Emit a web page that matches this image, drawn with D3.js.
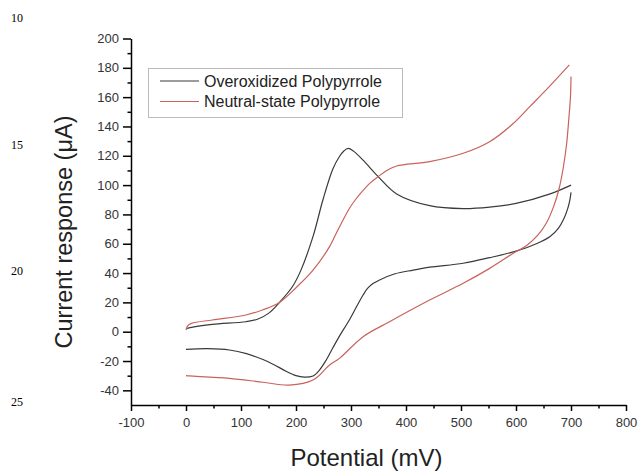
<!DOCTYPE html>
<html>
<head>
<meta charset="utf-8">
<script src="https://cdn.jsdelivr.net/npm/d3@7"></script>
<style>
  body { margin: 0; background: #fff; }
  text { font-family: "Liberation Sans", Arial, sans-serif; }
</style>
</head>
<body>
<svg id="chart"></svg>
<script>
// overoxidized polypyrrole, forward and reverse scan (mV, uA)
const oxFwdPotential = [0, 10, 48, 109, 130, 150, 170, 194, 209, 231, 249, 267, 279, 287, 295, 305, 322, 349, 383, 443, 504, 552, 600, 662, 700];
const oxFwdCurrent   = [2, 3, 5, 6.8, 8.5, 12.5, 20, 31, 42, 65, 90, 111, 119.5, 123.3, 125, 123, 117, 106, 94, 86, 84, 85, 87.5, 94, 100];
const oxRevPotential = [700, 698, 694, 687, 677, 662, 637, 600, 552, 504, 443, 413, 380, 352, 340, 330, 322, 310, 297, 279, 267, 255, 243, 231, 215, 200, 182, 160, 140, 110, 79, 40, 0];
const oxRevCurrent   = [95, 90, 84, 77, 70.5, 65, 60, 55, 50.5, 46.7, 44, 42, 39.5, 35.3, 32.8, 29.5, 25, 17, 8, -3, -11, -19.3, -26, -30.2, -31, -30, -27, -22.5, -19, -15, -12.5, -11.6, -12];

// neutral-state polypyrrole
const neFwdPotential = [0, 3, 10, 48, 109, 140, 170, 200, 231, 261, 273, 297, 308, 320, 335, 349, 365, 383, 443, 504, 552, 595, 625, 660, 697];
const neFwdCurrent   = [1, 4, 5.7, 8, 11.4, 15, 20, 30, 42, 58, 67, 84, 90, 95.5, 101.5, 105.7, 110, 113, 116, 121.7, 129.6, 142, 153.5, 167, 182];
const neRevPotential = [700, 699, 696, 692, 686, 678, 668, 655, 640, 620, 595, 552, 504, 443, 370, 322, 279, 261, 231, 188, 140, 79, 6, 0];
const neRevCurrent   = [174, 160, 145, 128, 112, 97, 85, 74, 66, 59, 53.5, 43.2, 33, 21.6, 6.8, -3.4, -18.2, -22.7, -33, -36.4, -34.5, -31.8, -30.2, -30];

const seriesNames = ["Overoxidized Polypyrrole", "Neutral-state Polypyrrole"];
const seriesColors = ["#3a3a3a", "#c9625c"];

const xTicks = [-100, 0, 100, 200, 300, 400, 500, 600, 700, 800];
const yTicks = [-40, -20, 0, 20, 40, 60, 80, 100, 120, 140, 160, 180, 200];
const lineNumbers = ["10", "15", "20", "25"];

const svgWidth = 638, svgHeight = 471;

const chart = d3.select('#chart')
    .attr("width", svgWidth)
    .attr("height", svgHeight);

var xScale = d3.scaleLinear().domain([-100, 800]).range([131, 626]);
var yScale = d3.scaleLinear().domain([-50, 200]).range([405, 38.5]);

// manuscript line numbers in the margin
const lnY = [22, 148.5, 275, 406];
chart.selectAll(".ln")
    .data(lineNumbers)
    .enter().append("text")
    .attr("x", 11)
    .attr("y", (d, i) => lnY[i])
    .style("font-family", "'Liberation Serif', 'Times New Roman', serif")
    .style("font-size", "12px")
    .text(d => d);

// minor ticks
chart.append("g")
    .attr("transform", "translate(0,405)")
    .call(d3.axisBottom(xScale).tickValues(d3.range(-50, 800, 100)).tickSize(3.5).tickFormat(""))
    .call(g => g.select(".domain").remove())
    .selectAll("line").attr("stroke", "#000").attr("stroke-width", 1.5);

chart.append("g")
    .attr("transform", "translate(131,0)")
    .call(d3.axisLeft(yScale).tickValues(d3.range(-30, 200, 20)).tickSize(3.5).tickFormat(""))
    .call(g => g.select(".domain").remove())
    .selectAll("line").attr("stroke", "#000").attr("stroke-width", 1.5);

// major axes
var xAxis = chart.append("g")
    .attr("transform", "translate(0,405)")
    .call(d3.axisBottom(xScale).tickValues(xTicks).tickSize(6).tickSizeOuter(0).tickPadding(7).tickFormat(d => String(d)));

var yAxis = chart.append("g")
    .attr("transform", "translate(131,0)")
    .call(d3.axisLeft(yScale).tickValues(yTicks).tickSize(8).tickSizeOuter(0).tickPadding(4).tickFormat(d => String(d)));

[xAxis, yAxis].forEach(function(ax) {
    ax.select(".domain").attr("stroke", "#000").attr("stroke-width", 1.5);
    ax.selectAll("line").attr("stroke", "#000").attr("stroke-width", 1.5);
    ax.selectAll("text")
        .style("font-family", "'Liberation Sans', Arial, sans-serif")
        .style("font-size", "13px")
        .attr("fill", "#333");
});

// axis titles
chart.append("text")
    .attr("x", 366.5)
    .attr("y", 466)
    .style("text-anchor", "middle")
    .style("font-size", "24px")
    .attr("fill", "#222")
    .text("Potential (mV)");

chart.append("text")
    .attr("transform", "translate(72,232) rotate(-90)")
    .style("text-anchor", "middle")
    .style("font-size", "23.5px")
    .attr("fill", "#222")
    .text("Current response (μA)");

// curves
var valueline = d3.line()
    .x(d => xScale(d[0]))
    .y(d => yScale(d[1]))
    .curve(d3.curveCatmullRom.alpha(0.5));

const branches = [
    {p: oxFwdPotential, c: oxFwdCurrent, s: 0},
    {p: oxRevPotential, c: oxRevCurrent, s: 0},
    {p: neFwdPotential, c: neFwdCurrent, s: 1},
    {p: neRevPotential, c: neRevCurrent, s: 1}
];

chart.selectAll(".branch")
    .data(branches)
    .enter().append("path")
    .attr("class", "branch")
    .attr("fill", "none")
    .attr("stroke", d => seriesColors[d.s])
    .attr("stroke-width", 1.2)
    .attr("d", d => valueline(d.p.map((v, i) => [v, d.c[i]])));

// legend
const legend = chart.append("g");
legend.append("rect")
    .attr("x", 148.5).attr("y", 68.5)
    .attr("width", 254).attr("height", 49)
    .attr("fill", "#fff")
    .attr("stroke", "#bbb")
    .attr("stroke-width", 1);

const legendRows = legend.selectAll(".row")
    .data(seriesNames)
    .enter().append("g")
    .attr("transform", (d, i) => "translate(0," + (i * 20.5) + ")");

legendRows.append("line")
    .attr("x1", 160).attr("x2", 199)
    .attr("y1", 81).attr("y2", 81)
    .attr("stroke", (d, i) => seriesColors[i])
    .attr("stroke-width", 1.2);

legendRows.append("text")
    .attr("x", 204)
    .attr("y", 86.5)
    .style("font-size", "16px")
    .attr("fill", "#222")
    .text(d => d);
</script>
</body>
</html>
